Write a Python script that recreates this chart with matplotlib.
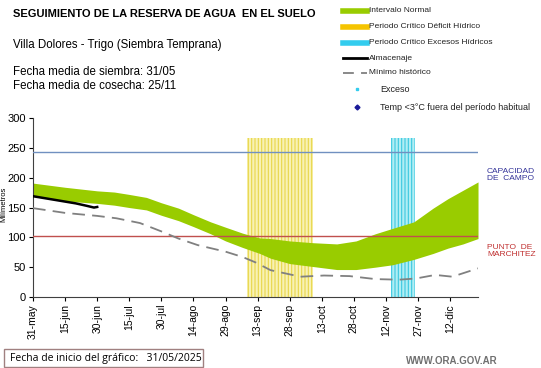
import numpy as np
import matplotlib
matplotlib.use("Agg")
import matplotlib.pyplot as plt
from matplotlib.lines import Line2D
from matplotlib.patches import Rectangle

plt.rcParams['font.family'] = ['Liberation Sans', 'DejaVu Sans']
plt.rcParams['hatch.linewidth'] = 0.8

# =========================
# datos (dias desde 31-may)
# =========================
tick_days = [0, 15, 30, 45, 60, 75, 90, 105, 120, 135, 150, 165, 180, 195]
tick_labels = ['31-may', '15-jun', '30-jun', '15-jul', '30-jul', '14-ago', '29-ago',
               '13-sep', '28-sep', '13-oct', '28-oct', '12-nov', '27-nov', '12-dic']

band_days = [0, 15, 30, 38, 45, 53, 60, 68, 75, 83, 90, 98, 106, 111, 120, 131,
             142, 151, 160, 168, 178, 187, 194, 201, 208]
band_upper = [191, 184, 178, 176, 172, 167, 158, 149, 138, 126, 117, 107, 99, 98, 94, 91,
              89, 94, 106, 115, 126, 149, 165, 179, 193]
band_lower = [170, 161, 157, 154, 150, 146, 137, 128, 118, 106, 94, 83, 73, 65, 56, 51,
              46, 46, 50, 54, 63, 73, 82, 89, 98]

min_days = [0, 15, 30, 39, 50, 60, 68, 77, 90, 98, 104, 111, 125, 136, 148, 160, 171,
            179, 188, 196, 208]
min_vals = [149, 141, 136, 132, 124, 110, 98, 87, 76, 67, 58, 45, 34, 36, 35, 30, 29,
            31, 37, 34, 48]

alm_days = [0, 5, 10, 15, 20, 25, 28.5, 30]
alm_vals = [169, 166, 163, 160, 157, 153, 150, 151]

capacidad_campo = 243
punto_marchitez = 102

deficit_periodo = (100, 131)
exceso_periodo = (167.5, 178.5)
periodo_alto = 266

fig = plt.figure(figsize=(5.41, 3.68), dpi=100)
ax = fig.add_axes([0.061, 0.193, 0.8226, 0.486])

# periodos criticos
ax.bar((deficit_periodo[0] + deficit_periodo[1]) / 2, periodo_alto,
       width=deficit_periodo[1] - deficit_periodo[0], color='#f8f2b4',
       edgecolor='#e8d64a', hatch='|||||', linewidth=0, zorder=1)
ax.bar((exceso_periodo[0] + exceso_periodo[1]) / 2, periodo_alto,
       width=exceso_periodo[1] - exceso_periodo[0], color='#b0eef4',
       edgecolor='#3cc8e0', hatch='|||||', linewidth=0, zorder=1)

# intervalo normal
ax.fill_between(band_days, band_lower, band_upper, color='#99cc00', lw=0, zorder=2)

ax.axhline(capacidad_campo, color='#7090c0', lw=1, zorder=3)
ax.axhline(punto_marchitez, color='#c0504d', lw=1, zorder=3)

ax.plot(min_days, min_vals, color='#808080', lw=1.3, dashes=(7, 4), zorder=4)
ax.plot(alm_days, alm_vals, color='black', lw=1.8, zorder=5)

ax.set_xlim(0, 208)
ax.set_ylim(0, 300)
ax.set_yticks([0, 50, 100, 150, 200, 250, 300])
ax.set_xticks(tick_days)
ax.set_xticklabels(tick_labels, rotation=90, fontsize=7.5)
ax.tick_params(axis='y', labelsize=8, length=3, pad=2)
ax.tick_params(axis='x', length=3, pad=2)
for s in ['top', 'right']:
    ax.spines[s].set_visible(False)
for s in ['left', 'bottom']:
    ax.spines[s].set_color('#404040')
ax.set_ylabel('Milímetros', fontsize=5.5)
ax.yaxis.set_label_coords(-0.058, 0.52)

ax.text(1.02, 0.68, 'CAPACIDAD\nDE  CAMPO', transform=ax.transAxes,
        fontsize=6, color='#333399', va='center', ha='left', linespacing=1.0)
ax.text(1.02, 0.257, 'PUNTO  DE\nMARCHITEZ', transform=ax.transAxes,
        fontsize=6, color='#c03030', va='center', ha='left', linespacing=1.0)

# textos de cabecera
W, H = 541.0, 368.0
def fx(px):
    return px / W
def fy(py):
    return 1 - py / H

fig.text(fx(13), fy(14), 'SEGUIMIENTO DE LA RESERVA DE AGUA  EN EL SUELO',
         fontsize=8, fontweight='bold', va='center')
fig.text(fx(13), fy(45), 'Villa Dolores - Trigo (Siembra Temprana)', fontsize=8.3, va='center')
fig.text(fx(13), fy(72), 'Fecha media de siembra: 31/05', fontsize=8.3, va='center')
fig.text(fx(13), fy(86), 'Fecha media de cosecha: 25/11', fontsize=8.3, va='center')

# leyenda manual
ley = [
    ('Intervalo Normal', dict(color='#99cc00', lw=4)),
    ('Periodo Crítico Déficit Hídrico', dict(color='#f5c400', lw=4)),
    ('Periodo Crítico Excesos Hídricos', dict(color='#33ccee', lw=4)),
    ('Almacenaje', dict(color='black', lw=2)),
    ('Mínimo histórico', dict(color='#808080', lw=1.3, dashes=(6, 4))),
]
ley_y = [11, 27, 43, 58, 73]
for (lab, kw), py in zip(ley, ley_y):
    fig.add_artist(Line2D([fx(343), fx(367)], [fy(py), fy(py)], **kw))
    fig.text(fx(369), fy(py), lab, fontsize=6, va='center', color='#222222')
fig.add_artist(Line2D([fx(357)], [fy(89)], marker='s', color='#33ccee', ms=2, lw=0))
fig.text(fx(380), fy(89), 'Exceso', fontsize=6.5, va='center', color='#222222')
fig.add_artist(Line2D([fx(357)], [fy(107)], marker='D', color='#1a1a99', ms=2.5, lw=0))
fig.text(fx(380), fy(107), 'Temp <3°C fuera del período habitual', fontsize=6.5,
         va='center', color='#222222')

# pie
fig.add_artist(Rectangle((fx(4), fy(367)), fx(199), 18 / H, transform=fig.transFigure,
                         fill=False, edgecolor='#a08080', lw=1))
fig.text(fx(10), fy(358), 'Fecha de inicio del gráfico:   31/05/2025', fontsize=7.5,
         va='center', family=['Open Sans', 'DejaVu Sans'])
fig.text(fx(498), fy(361), 'WWW.ORA.GOV.AR', fontsize=7, color='#707070',
         fontweight='bold', ha='right', va='center')

fig.savefig('out.png', dpi=100)
